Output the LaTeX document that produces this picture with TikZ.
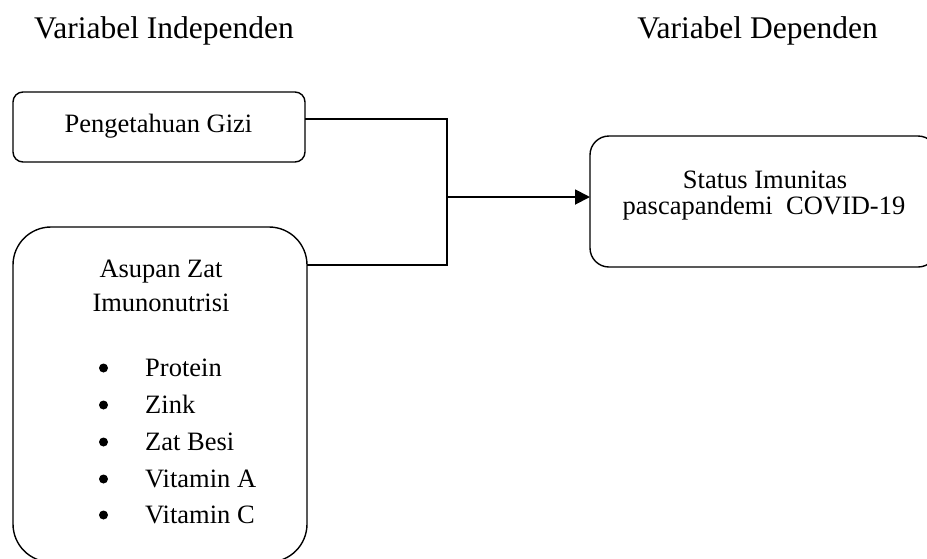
\documentclass[tikz,border=0pt]{standalone}
\usepackage{fontspec}
\setmainfont{Liberation Serif}
\usetikzlibrary{arrows.meta,calc}
\tikzset{
  box/.style={draw, line width=1.4pt, inner sep=0pt, outer sep=0pt},
  title/.style={font=\fontsize{31.5}{36}\selectfont, anchor=base, inner sep=0pt},
  txt/.style={font=\fontsize{26.5}{30}\selectfont, anchor=base, inner sep=0pt},
  item/.style={font=\fontsize{26.5}{30}\selectfont, anchor=base west, inner sep=0pt},
  dot/.style={circle, fill=black, inner sep=0pt, minimum size=9pt},
  conn/.style={line width=1.3pt},
  arr/.style={line width=1.9pt, -{Triangle[length=15pt,width=15pt]}}
}
\begin{document}
\begin{tikzpicture}[x=1pt,y=-1pt]
\useasboundingbox (0,0) rectangle (927,558);
\clip (0,0) rectangle (927,558);
% titles
\node[title] (t1) at (164,38) {Variabel Independen};
\node[title] (t2) at (757.5,38) {Variabel Dependen};
% boxes
\node[box, rounded corners=10pt, minimum width=292pt, minimum height=70pt] (a) at (159,127) {};
\node[box, rounded corners=38pt, minimum width=294pt, minimum height=335pt] (b) at (160,394.5) {};
\node[box, rounded corners=19pt, minimum width=347pt, minimum height=131pt] (c) at (763.5,201.5) {};
% texts
\node[txt] (ta) at (158.5,132) {Pengetahuan Gizi};
\node[txt] (tb1) at (161,277) {Asupan Zat};
\node[txt] (tb2) at (161,311) {Imunonutrisi};
\node[txt] (tc1) at (765,188) {Status Imunitas};
\node[txt] (tc2) at (764,214) {pascapandemi\ \ COVID-19};
% list
\foreach \n/\yy/\t in {1/376/Protein, 2/413/Zink, 3/450/Zat Besi, 4/487/Vitamin A, 5/523/Vitamin C}{
  \node[dot] (bul\n) at (103.5,\yy-8) {};
  \node[item] (it\n) at (145,\yy) {\t};
}
% connectors
\coordinate (j1) at (447,119);
\coordinate (j2) at (447,265);
\coordinate (j) at (447,197);
\draw[conn] ([yshift=8pt]a.east) -- (j1) -- (j2) -- ($(b.north east)+(0,38)$);
\draw[arr] (j) -- (c.west |- j);
\end{tikzpicture}
\end{document}
